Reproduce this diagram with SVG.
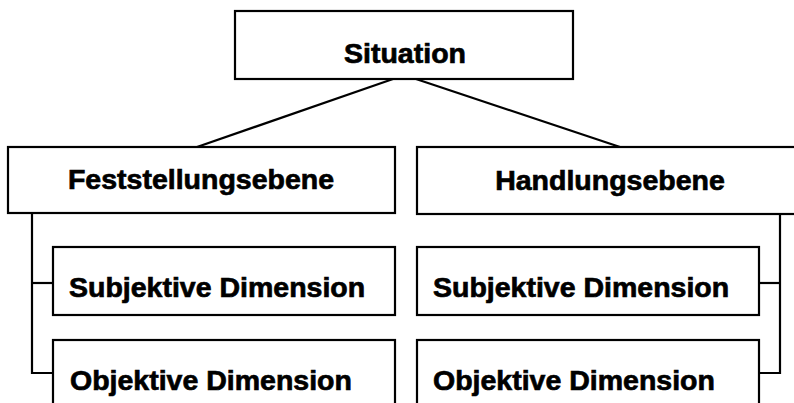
<svg xmlns="http://www.w3.org/2000/svg" width="794" height="403" viewBox="0 0 794 403">
<style>
.box{fill:#fff;stroke:#000;stroke-width:2.2}
.lbl{font-family:"Liberation Sans",Arial,sans-serif;font-weight:bold;font-size:28.5px;fill:#000;stroke:#000;stroke-width:0.7}
.con{fill:none;stroke:#000;stroke-width:2.2}
</style>
<rect width="794" height="403" fill="#fff"/>
<g id="connectors">
<line class="con" x1="393" y1="79" x2="197" y2="147"/>
<line class="con" x1="416" y1="79" x2="620" y2="147"/>
<polyline class="con" points="32,213 32,373 53,373"/>
<line class="con" x1="32" y1="283" x2="53" y2="283"/>
<polyline class="con" points="780,214 780,373 759,373"/>
<line class="con" x1="780" y1="283" x2="759" y2="283"/>
</g>
<g id="situation">
<rect class="box" x="235" y="11" width="338" height="68"/>
<text class="lbl" x="405" y="63" text-anchor="middle">Situation</text>
</g>
<g id="feststellungsebene">
<rect class="box" x="8" y="147" width="387" height="66"/>
<text class="lbl" x="201" y="189" text-anchor="middle">Feststellungsebene</text>
</g>
<g id="handlungsebene">
<rect class="box" x="417" y="147" width="390" height="67"/>
<text class="lbl" x="610" y="190" text-anchor="middle">Handlungsebene</text>
</g>
<g id="subjektiv-links">
<rect class="box" x="53" y="247" width="342" height="68"/>
<text class="lbl" x="69" y="297">Subjektive Dimension</text>
</g>
<g id="objektiv-links">
<rect class="box" x="53" y="340" width="342" height="80"/>
<text class="lbl" x="70" y="390">Objektive Dimension</text>
</g>
<g id="subjektiv-rechts">
<rect class="box" x="417" y="247" width="342" height="68"/>
<text class="lbl" x="433" y="297">Subjektive Dimension</text>
</g>
<g id="objektiv-rechts">
<rect class="box" x="417" y="340" width="342" height="80"/>
<text class="lbl" x="433" y="390">Objektive Dimension</text>
</g>
</svg>
